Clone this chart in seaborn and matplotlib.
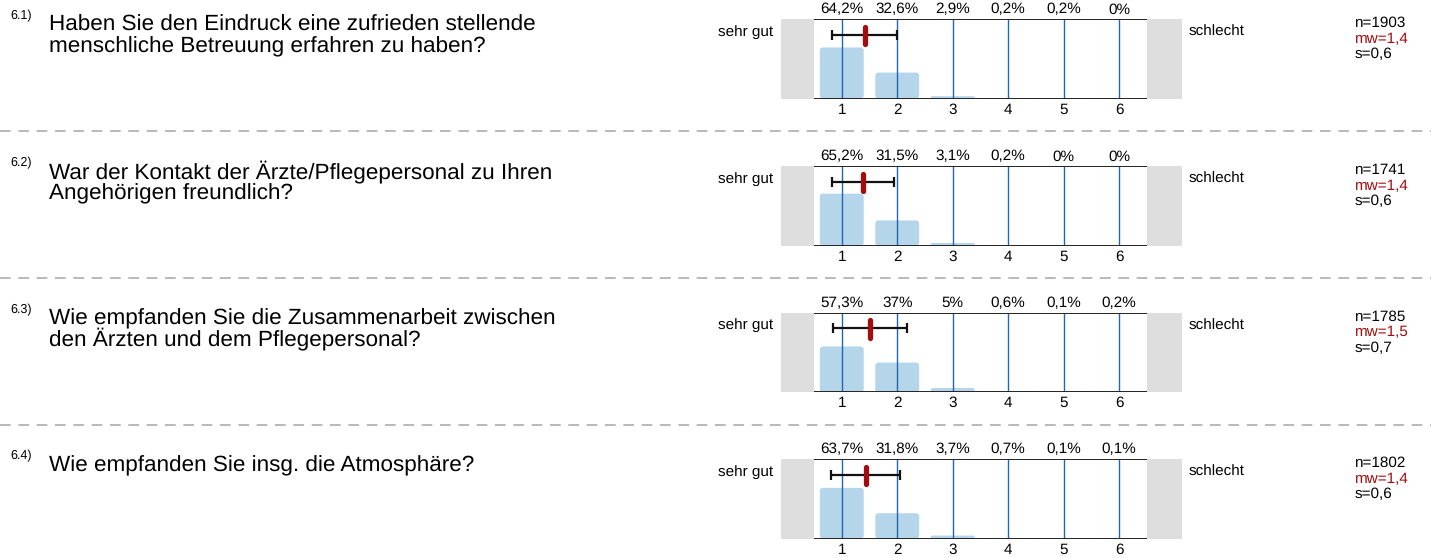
import pandas as pd
import seaborn as sns
import matplotlib.pyplot as plt
from matplotlib.patches import FancyBboxPatch
from matplotlib.lines import Line2D

# Survey results, section 6 (answers on a 1-6 scale, share in percent)
numbers = ['6.1)', '6.2)', '6.3)', '6.4)']
questions = [
    ['Haben Sie den Eindruck eine zufrieden stellende',
     'menschliche Betreuung erfahren zu haben?'],
    ['War der Kontakt der Ärzte/Pflegepersonal zu Ihren',
     'Angehörigen freundlich?'],
    ['Wie empfanden Sie die Zusammenarbeit zwischen',
     'den Ärzten und dem Pflegepersonal?'],
    ['Wie empfanden Sie insg. die Atmosphäre?'],
]
scale = [1, 2, 3, 4, 5, 6]
pct_61 = [64.2, 32.6, 2.9, 0.2, 0.2, 0]
pct_62 = [65.2, 31.5, 3.1, 0.2, 0, 0]
pct_63 = [57.3, 37, 5, 0.6, 0.1, 0.2]
pct_64 = [63.7, 31.8, 3.7, 0.7, 0.1, 0.1]
percents = [pct_61, pct_62, pct_63, pct_64]
n_values = [1903, 1741, 1785, 1802]
means = [1.41, 1.39, 1.51, 1.43]
sds = [0.58, 0.56, 0.66, 0.62]

sns.set_style('white')
plt.rcParams['font.family'] = ['Liberation Sans', 'DejaVu Sans']
plt.rcParams['text.color'] = 'black'
plt.rcParams['xtick.color'] = 'black'
plt.rcParams['text.hinting'] = 'no_hinting'

W, H = 1431, 558
fig = plt.figure(figsize=(W / 100, H / 100), dpi=100)


def fy(py):
    return 1 - py / H


box_tops = [19, 166, 312.5, 459]
box_h = 79.5
plot_left, plot_right = 814, 1147      # pixel edges of the 0.5 .. 6.5 range
ax_left, ax_right = 781, 1182          # including the grey side boxes
unit = (plot_right - plot_left) / 6    # px per scale step
xlo = 0.5 - (plot_left - ax_left) / unit
xhi = 6.5 + (ax_right - plot_right) / unit
bar_color = '#b5d5eb'
red = '#a30d0d'
small = 11

for i, top in enumerate(box_tops):
    ax = fig.add_axes([ax_left / W, fy(top + box_h),
                       (ax_right - ax_left) / W, box_h / H])
    ax.patch.set_visible(False)

    df = pd.DataFrame({'Wert': scale, 'Prozent': percents[i]})
    sns.barplot(data=df, x='Wert', y='Prozent', native_scale=True, width=0.79,
                color=bar_color, saturation=1, errorbar=None, ax=ax)

    # rounded bar tops
    ypx = 100 / box_h
    for bar in list(ax.patches):
        x0, w, h = bar.get_x(), bar.get_width(), bar.get_height()
        bar.remove()
        if h <= 0:
            continue
        r_px = min(3, h / ypx / 2)
        ax.add_patch(FancyBboxPatch((x0, 0), w, h,
                                    boxstyle=f'round,pad=0,rounding_size={r_px / unit}',
                                    mutation_aspect=ypx * unit,
                                    fc=bar_color, ec='none', zorder=2))

    ax.axvspan(xlo, 0.5, color='#dedede', lw=0, zorder=0)
    ax.axvspan(6.5, xhi, color='#dedede', lw=0, zorder=0)
    ax.vlines(scale, 0, 100, colors='#2166b3', lw=1, zorder=3)
    ax.hlines([0, 100], 0.5, 6.5, colors='#222222', lw=1.4, zorder=4)

    ax.errorbar(means[i], 80, xerr=sds[i], fmt='none', ecolor='#111111',
                elinewidth=1.6, capsize=3.3, capthick=1.6, zorder=5)
    ax.plot([means[i], means[i]], [68.5, 90.5], color=red, lw=3.8,
            solid_capstyle='round', zorder=6)

    for x, p in zip(scale, percents[i]):
        label = f'{p:g}'.replace('.', ',') + '%'
        ax.text(x, 100 + 9.5 * ypx, label, ha='center', va='center', fontsize=small)

    ax.set_xlim(xlo, xhi)
    ax.set_ylim(0, 100)
    ax.set_xticks(scale, labels=[str(s) for s in scale])
    ax.set_yticks([])
    ax.tick_params(axis='x', length=0, pad=3, labelsize=small)
    ax.set_xlabel('')
    ax.set_ylabel('')
    sns.despine(ax=ax, left=True, bottom=True)

    fig.text(773 / W, fy(top + 13), 'sehr gut', ha='right', va='center', fontsize=small)
    fig.text(1189 / W, fy(top + 13), 'schlecht', ha='left', va='center', fontsize=small)
    fig.text(1355 / W, fy(top + 4), f'n={n_values[i]}', va='center', fontsize=small)
    fig.text(1355 / W, fy(top + 20), 'mw=' + f'{means[i]:.1f}'.replace('.', ','),
             va='center', fontsize=small, color=red)
    fig.text(1355 / W, fy(top + 35.5), 's=' + f'{sds[i]:.1f}'.replace('.', ','),
             va='center', fontsize=small)

    fig.text(10 / W, fy(top + 0.5), numbers[i], va='baseline', fontsize=9)
    for k, line in enumerate(questions[i]):
        fig.text(49 / W, fy(top + 12 + 21 * k), line, va='baseline', fontsize=16.2)

for y in [131, 277.7, 425]:
    fig.add_artist(Line2D([0, 1], [fy(y), fy(y)], color='#a6a6a6', lw=1.1,
                          dashes=(7, 5), transform=fig.transFigure))

fig.savefig('out.png', dpi=100)
